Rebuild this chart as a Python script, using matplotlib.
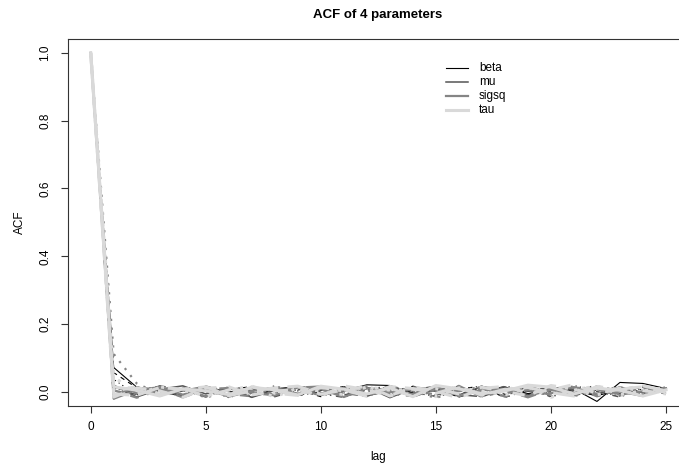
import numpy as np
import matplotlib
matplotlib.use('Agg')
import matplotlib.pyplot as plt
from matplotlib.lines import Line2D

plt.rcParams['font.family'] = ['Liberation Sans', 'DejaVu Sans']

lags = np.arange(0, 26)

params = ['beta', 'mu', 'sigsq', 'tau']
colors = ['#000000', '#555555', '#858585', '#d9d9d9']
widths = [0.8, 1.1, 1.6, 2.2]

# five chains per parameter
beta = [
    [1, 0.072, 0.014, 0.006, -0.009, 0.012, 0.003, -0.015, 0.009, 0.016, -0.006, 0.004, 0.021,
     0.019, -0.003, 0.010, -0.012, 0.006, 0.015, -0.005, 0.007, 0.009, -0.028, 0.028, 0.025, 0.010],
    [1, 0.057, 0.012, -0.008, 0.005, -0.012, 0.009, 0.013, -0.003, 0.006, -0.014, 0.010, 0.002,
     -0.009, 0.017, 0.003, -0.006, 0.012, -0.016, 0.004, 0.013, -0.009, 0.006, -0.005, 0.016, 0.003],
    [1, 0.037, -0.009, 0.012, 0.002, 0.008, -0.017, 0.004, 0.010, -0.008, 0.015, -0.003, 0.009,
     0.013, -0.011, 0.006, 0.016, -0.013, 0.003, 0.012, -0.006, 0.019, 0.002, -0.012, 0.009, -0.007],
    [1, 0.010, 0.008, -0.011, 0.014, -0.004, 0.007, 0.016, -0.009, 0.003, 0.012, -0.014, 0.006,
     0.010, -0.002, -0.013, 0.009, 0.017, -0.007, 0.002, 0.011, -0.004, 0.008, 0.015, -0.010, 0.004],
    [1, -0.012, 0.015, 0.002, -0.013, 0.010, -0.007, 0.005, 0.013, -0.011, 0.004, 0.016, -0.010,
     0.001, 0.011, 0.008, -0.015, 0.004, 0.012, -0.009, 0.016, 0.002, -0.011, 0.006, 0.013, -0.006],
]
mu = [
    [1, 0.020, -0.015, 0.008, 0.018, -0.006, 0.012, -0.016, 0.005, 0.015, -0.010, 0.003, 0.014,
     -0.017, 0.009, 0.002, -0.009, 0.016, 0.006, -0.013, 0.011, 0.005, -0.008, 0.015, -0.003, 0.009],
    [1, -0.018, 0.009, -0.012, 0.003, 0.015, -0.005, 0.011, -0.014, 0.006, 0.018, -0.009, 0.005,
     0.012, -0.015, 0.008, 0.014, -0.003, -0.012, 0.016, 0.000, -0.010, 0.012, 0.003, -0.009, 0.006],
    [1, 0.008, 0.005, 0.016, -0.010, 0.002, 0.014, -0.006, 0.018, -0.012, 0.003, 0.015, -0.008,
     0.006, 0.012, -0.016, 0.005, 0.009, -0.006, 0.014, -0.015, 0.008, 0.018, -0.009, 0.005, -0.002],
    [1, -0.020, 0.011, 0.004, -0.014, 0.017, 0.002, -0.012, 0.008, 0.014, -0.005, -0.016, 0.010,
     0.015, 0.001, -0.010, 0.013, -0.007, 0.017, 0.004, -0.013, 0.010, 0.001, -0.015, 0.012, 0.007],
    [1, 0.003, -0.007, 0.018, 0.006, -0.015, 0.010, 0.004, -0.012, 0.016, 0.009, -0.004, -0.013,
     0.011, 0.006, 0.017, -0.008, -0.014, 0.009, 0.002, 0.015, -0.011, 0.006, 0.013, -0.007, 0.010],
]
sigsq = [
    [1, -0.020, 0.006, 0.014, -0.008, 0.009, -0.014, 0.003, 0.012, -0.005, 0.008, -0.015, 0.011,
     0.000, -0.006, 0.015, -0.011, 0.005, 0.009, -0.012, 0.006, -0.003, 0.014, -0.008, 0.002, 0.011],
    [1, 0.005, -0.017, 0.005, 0.011, -0.013, 0.006, 0.015, -0.009, 0.002, -0.005, 0.012, -0.012,
     0.009, 0.005, -0.008, 0.018, -0.015, 0.003, 0.008, -0.009, 0.015, -0.013, 0.006, 0.011, -0.005],
    [1, 0.112, 0.025, -0.006, 0.015, -0.018, 0.008, 0.002, -0.011, 0.019, -0.003, 0.009, -0.014,
     0.016, 0.003, -0.018, 0.006, 0.014, -0.005, 0.009, 0.018, -0.012, 0.002, 0.012, -0.006, 0.008],
    [1, -0.008, 0.014, -0.010, 0.003, 0.016, -0.006, -0.013, 0.015, 0.007, -0.010, 0.005, 0.017,
     -0.006, -0.012, 0.009, 0.002, 0.015, -0.014, 0.006, -0.004, 0.013, 0.008, -0.011, 0.016, 0.001],
    [1, 0.015, -0.004, 0.009, -0.016, 0.007, 0.012, -0.003, -0.010, 0.013, 0.016, -0.012, 0.004,
     -0.008, 0.014, 0.006, -0.013, 0.010, 0.005, -0.016, 0.008, 0.014, -0.006, 0.001, -0.012, 0.015],
]
tau = [
    [1, 0.015, 0.005, -0.012, 0.009, 0.003, -0.008, 0.014, 0.006, -0.009, 0.017, 0.008, -0.006,
     0.012, -0.014, 0.019, 0.009, -0.005, 0.003, 0.020, 0.014, -0.006, 0.011, 0.005, -0.012, 0.006],
    [1, -0.015, 0.012, 0.003, -0.016, 0.011, 0.015, -0.009, 0.002, 0.008, -0.012, 0.018, 0.006,
     -0.011, 0.014, 0.002, -0.018, 0.011, 0.016, -0.003, 0.006, 0.022, -0.005, 0.009, 0.015, -0.002],
    [1, 0.045, -0.006, 0.015, 0.005, -0.011, 0.003, 0.009, -0.015, 0.012, 0.002, -0.008, 0.015,
     0.005, 0.008, -0.014, 0.012, 0.003, -0.009, 0.015, -0.016, 0.005, 0.018, -0.008, 0.003, 0.012],
    [1, 0.002, 0.016, -0.007, 0.011, -0.013, 0.006, 0.017, -0.004, -0.010, 0.013, 0.003, 0.018,
     -0.012, 0.007, 0.010, -0.006, 0.014, 0.001, -0.011, 0.019, 0.008, -0.009, 0.012, 0.004, -0.006],
    [1, -0.006, -0.010, 0.013, 0.008, 0.015, -0.011, 0.003, 0.012, 0.017, -0.007, 0.006, -0.013,
     0.016, 0.010, -0.004, 0.015, -0.010, 0.008, 0.013, -0.002, -0.012, 0.016, 0.007, 0.018, 0.003],
]
series = [beta, mu, sigsq, tau]
styles = ['-', (0, (4, 4)), (0, (1, 3)), (0, (1, 3, 4, 3)), (0, (7, 3))]

W, H = 679, 468
fig = plt.figure(figsize=(W / 100, H / 100), dpi=100)
left, right, top, bottom = 67.7, 689, 39.3, 405.5
ax = fig.add_axes([left / W, 1 - bottom / H, (right - left) / W, (bottom - top) / H])

for chains, c, w in zip(series, colors, widths):
    for vals, ls in zip(chains, styles):
        ax.plot(lags, vals, color=c, lw=w, linestyle=ls)

ax.set_xlim(-1, 26)
ax.set_ylim(-0.04, 1.04)
ax.set_xticks([0, 5, 10, 15, 20, 25])
ax.set_yticks([0.0, 0.2, 0.4, 0.6, 0.8, 1.0])
ax.set_yticklabels(['0.0', '0.2', '0.4', '0.6', '0.8', '1.0'], rotation=90, va='center')
ax.tick_params(direction='out', length=5, width=0.8, labelsize=8.5, color='#333333')
ax.tick_params(axis='x', pad=6)
ax.tick_params(axis='y', pad=7)
for s in ax.spines.values():
    s.set_linewidth(0.8)
    s.set_color('#333333')
ax.spines['right'].set_visible(False)

fig.text(378 / W, 1 - 15 / H, 'ACF of 4 parameters', ha='center', va='center',
         fontsize=9.5, fontweight='bold')
fig.text(378 / W, 1 - 457 / H, 'lag', ha='center', va='center', fontsize=8.5)
fig.text(19.6 / W, 1 - 222 / H, 'ACF', ha='center', va='center', fontsize=8.5, rotation=90)

# legend
ys = [68.3, 82.3, 96.0, 110.0]
for name, c, w, y in zip(params, colors, widths, ys):
    fig.add_artist(Line2D([446 / W, 468 / W], [1 - y / H, 1 - y / H], color=c, lw=w))
    fig.text(479 / W, 1 - y / H, name, ha='left', va='center', fontsize=8.5)

fig.savefig('out.png', dpi=100)
